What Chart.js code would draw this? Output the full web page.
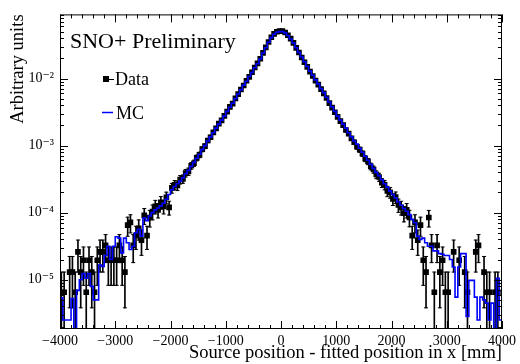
<!DOCTYPE html>
<html>
<head>
<meta charset="utf-8">
<script src="https://cdn.jsdelivr.net/npm/chart.js@4.4.0/dist/chart.umd.min.js"></script>
<style>
  html, body { margin: 0; padding: 0; background: #fff; }
  #wrap { width: 520px; height: 364px; }
</style>
</head>
<body>
<div id="wrap"><canvas id="c"></canvas></div>
<script>
// histogram binning (mm)
var X_MIN = -4000, X_MAX = 4000, BIN_WIDTH = 50;
var Y_MIN = 1.84e-6, Y_MAX = 9.04e-2;
var COUNT_UNIT = 6.5e-6;   // weight of one entry in the data histogram
var FLOOR = 1e-9;          // empty bins are drawn below the axis

var xTickValues = [-4000, -3000, -2000, -1000, 0, 1000, 2000, 3000, 4000];
var xTickLabels = ['\u22124000', '\u22123000', '\u22122000', '\u22121000', '0', '1000', '2000', '3000', '4000'];
var yTickValues = [1e-5, 1e-4, 1e-3, 1e-2];
var yTickLabels = ['10\u207B\u2075', '10\u207B\u2074', '10\u207B\u00B3', '10\u207B\u00B2'];

// data, one value per bin from -4000 to 4000 (0 = empty bin)
var dataValues = [
  6.5e-6, 6.5e-6, 0, 1.3e-5, 1.3e-5, 6.5e-6, 2.6e-5, 1.3e-5, 1.95e-5, 6.5e-6,
  1.95e-5, 1.3e-5, 6.5e-6, 1.95e-5, 2.6e-5, 2.6e-5, 3.25e-5, 1.95e-5, 1.95e-5, 1.95e-5,
  1.95e-5, 3.25e-5, 1.95e-5, 1.3e-5, 6.5e-5, 7.15e-5, 3.25e-5, 4.55e-5, 5.85e-5, 3.9e-5,
  9.1e-5, 4.55e-5, 8.45e-5, 1.04e-4, 1.24e-4, 1.1e-4, 1.43e-4, 1.24e-4, 1.69e-4, 1.2e-4,
  2.34e-4, 2.6e-4, 2.54e-4, 3.12e-4, 3.19e-4, 3.9e-4, 4.1e-4, 5.0e-4, 5.46e-4, 6.57e-4,
  7.28e-4, 8.84e-4, 9.8e-4, 1.19e-3, 1.33e-3, 1.57e-3, 1.81e-3, 2.12e-3, 2.38e-3, 2.78e-3,
  3.21e-3, 3.78e-3, 4.22e-3, 5.05e-3, 5.84e-3, 6.85e-3, 7.88e-3, 9.25e-3, 1.06e-2, 1.24e-2,
  1.46e-2, 1.68e-2, 1.97e-2, 2.41e-2, 2.92e-2, 3.50e-2, 4.12e-2, 4.64e-2, 4.98e-2, 5.10e-2,
  5.08e-2, 4.86e-2, 4.42e-2, 3.93e-2, 3.40e-2, 2.86e-2, 2.44e-2, 2.06e-2, 1.75e-2, 1.49e-2,
  1.27e-2, 1.09e-2, 9.30e-3, 8.10e-3, 6.95e-3, 6.01e-3, 5.12e-3, 4.30e-3, 3.69e-3, 3.14e-3,
  2.68e-3, 2.31e-3, 2.02e-3, 1.71e-3, 1.51e-3, 1.28e-3, 1.12e-3, 9.6e-4, 8.7e-4, 7.6e-4,
  6.4e-4, 5.8e-4, 4.9e-4, 4.4e-4, 3.7e-4, 3.4e-4, 2.8e-4, 2.6e-4, 2.1e-4, 2.0e-4,
  1.6e-4, 1.7e-4, 1.3e-4, 1.2e-4, 9.8e-5, 1.1e-4, 8.5e-5, 4.55e-5, 7.15e-5, 3.9e-5,
  6.5e-5, 1.95e-5, 1.3e-5, 8.45e-5, 3.25e-5, 6.5e-6, 3.25e-5, 1.3e-5, 1.95e-5, 6.5e-6,
  6.5e-6, 0, 2.6e-5, 0, 1.95e-5, 0, 1.3e-5, 6.5e-6, 0, 0,
  2.6e-5, 3.25e-5, 0, 1.3e-5, 6.5e-6, 6.5e-6, 0, 6.5e-6, 6.5e-6, 0
];

// MC, same binning
var mcValues = [
  5.37e-6, 2.51e-6, 2.51e-6, 2.51e-6, 5.25e-6, 0, 6.92e-6, 1.0e-5, 1.23e-5, 1.05e-5,
  1.23e-5, 7.94e-6, 5.01e-6, 5.01e-6, 1.66e-5, 1.58e-5, 2.29e-5, 3.16e-5, 2.0e-5, 3.16e-5,
  4.37e-5, 4.17e-5, 2.51e-5, 4.17e-5, 3.55e-5, 2.82e-5, 3.16e-5, 5.01e-5, 5.62e-5, 4.47e-5,
  8.32e-5, 7.59e-5, 8.91e-5, 1.0e-4, 1.10e-4, 1.17e-4, 1.26e-4, 1.38e-4, 1.58e-4, 1.86e-4,
  2.19e-4, 2.45e-4, 2.69e-4, 2.95e-4, 3.31e-4, 3.80e-4, 4.27e-4, 4.90e-4, 5.62e-4, 6.46e-4,
  7.41e-4, 8.71e-4, 1.0e-3, 1.17e-3, 1.35e-3, 1.55e-3, 1.82e-3, 2.09e-3, 2.40e-3, 2.75e-3,
  3.24e-3, 3.72e-3, 4.27e-3, 5.01e-3, 5.89e-3, 6.76e-3, 7.94e-3, 9.12e-3, 1.07e-2, 1.23e-2,
  1.45e-2, 1.66e-2, 1.95e-2, 2.40e-2, 2.88e-2, 3.47e-2, 4.07e-2, 4.57e-2, 4.90e-2, 5.01e-2,
  5.01e-2, 4.79e-2, 4.37e-2, 3.89e-2, 3.39e-2, 2.88e-2, 2.45e-2, 2.09e-2, 1.78e-2, 1.51e-2,
  1.29e-2, 1.12e-2, 9.55e-3, 8.32e-3, 7.08e-3, 6.17e-3, 5.25e-3, 4.47e-3, 3.80e-3, 3.24e-3,
  2.75e-3, 2.40e-3, 2.09e-3, 1.82e-3, 1.55e-3, 1.35e-3, 1.17e-3, 1.05e-3, 9.12e-4, 7.94e-4,
  6.92e-4, 6.03e-4, 5.25e-4, 4.57e-4, 3.98e-4, 3.55e-4, 3.09e-4, 2.69e-4, 2.40e-4, 2.09e-4,
  1.86e-4, 1.66e-4, 1.45e-4, 1.29e-4, 1.15e-4, 1.05e-4, 9.33e-5, 7.94e-5, 7.08e-5, 4.47e-5,
  3.98e-5, 4.17e-5, 3.55e-5, 3.16e-5, 3.16e-5, 2.69e-5, 2.69e-5, 2.45e-5, 2.40e-5, 2.29e-5,
  2.29e-5, 2.0e-5, 1.55e-5, 5.50e-6, 1.55e-5, 2.45e-5, 2.45e-5, 2.82e-6, 9.77e-6, 9.77e-6,
  5.50e-6, 2.51e-6, 5.50e-6, 5.01e-6, 4.47e-6, 2.51e-6, 4.47e-6, 0, 1.05e-5, 2.51e-6
];

// build the chart datasets from the bins
var points = [], errBars = [], capsHi = [], capsLo = [], mcLine = [];
for (var i = 0; i < dataValues.length; i++) {
  var xc = X_MIN + BIN_WIDTH * (i + 0.5);
  var v = dataValues[i];
  if (v > 0) {
    var err = Math.sqrt(v * COUNT_UNIT);
    var lo = v - err;
    points.push({x: xc, y: v});
    capsHi.push({x: xc, y: v + err});
    if (lo > v * 0.01) {
      capsLo.push({x: xc, y: lo});
    } else {
      lo = FLOOR;
    }
    errBars.push({x: xc, y: [lo, v + err]});
  }
  mcLine.push({x: X_MIN + BIN_WIDTH * i, y: mcValues[i] > 0 ? mcValues[i] : FLOOR});
}
mcLine.push({x: X_MAX, y: mcValues[mcValues.length - 1] > 0 ? mcValues[mcValues.length - 1] : FLOOR});

// frame with ROOT style inner ticks on all four sides, plus the labels
var rootFrame = {
  id: 'rootFrame',
  afterDatasetsDraw: function(chart) {
    var ctx = chart.ctx, a = chart.chartArea;
    var xs = chart.scales.x, ys = chart.scales.y;
    ctx.save();
    ctx.strokeStyle = '#000';
    ctx.lineWidth = 1;
    ctx.strokeRect(a.left + 0.5, a.top + 0.5, a.right - a.left - 1, a.bottom - a.top - 1);
    ctx.beginPath();
    for (var t = X_MIN; t <= X_MAX; t += 200) {
      var px = Math.round(xs.getPixelForValue(t)) + 0.5;
      var len = (t % 1000 === 0) ? 8 : 4;
      ctx.moveTo(px, a.bottom); ctx.lineTo(px, a.bottom - len);
      ctx.moveTo(px, a.top); ctx.lineTo(px, a.top + len);
    }
    for (var d = -6; d <= -1; d++) {
      for (var m = 1; m <= 9; m++) {
        var val = m * Math.pow(10, d);
        if (val < Y_MIN || val > Y_MAX) continue;
        var py = Math.round(ys.getPixelForValue(val)) + 0.5;
        var l = (m === 1) ? 8 : 4;
        ctx.moveTo(a.left, py); ctx.lineTo(a.left + l, py);
        ctx.moveTo(a.right, py); ctx.lineTo(a.right - l, py);
      }
    }
    ctx.stroke();

    ctx.fillStyle = '#000';
    ctx.textBaseline = 'alphabetic';
    ctx.textAlign = 'left';
    ctx.font = '22px "Liberation Serif"';
    ctx.fillText('SNO+ Preliminary', 70, 48);

    // legend
    ctx.font = '18px "Liberation Serif"';
    ctx.beginPath();
    ctx.moveTo(106, 79.5); ctx.lineTo(114, 79.5);
    ctx.stroke();
    ctx.fillRect(103, 76, 6, 6);
    ctx.fillText('Data', 115, 85);
    ctx.strokeStyle = '#0000ff';
    ctx.lineWidth = 1.5;
    ctx.beginPath();
    ctx.moveTo(102, 112.5); ctx.lineTo(113, 112.5);
    ctx.stroke();
    ctx.fillText('MC', 116, 119);
    ctx.restore();
  }
};

Chart.defaults.font.family = '"Liberation Serif", "DejaVu Serif", serif';
Chart.defaults.color = '#000';

new Chart(document.getElementById('c'), {
  type: 'line',
  data: {
    datasets: [
      {
        label: 'MC',
        data: mcLine,
        stepped: true,
        borderColor: '#0000ff',
        borderWidth: 1.6,
        pointRadius: 0,
        fill: false,
        clip: 0,
        order: 0
      },
      {
        label: 'Data',
        data: points,
        showLine: false,
        pointStyle: 'rect',
        pointRadius: 4,
        pointBackgroundColor: '#000',
        pointBorderColor: '#000',
        pointBorderWidth: 0,
        order: 1
      },
      {
        label: 'caps',
        data: capsHi.concat(capsLo),
        showLine: false,
        pointStyle: 'line',
        pointRadius: 2,
        pointBorderColor: '#000',
        pointBorderWidth: 1,
        clip: 0,
        order: 2
      },
      {
        type: 'bar',
        label: 'errors',
        data: errBars,
        backgroundColor: '#000',
        barThickness: 1,
        grouped: false,
        clip: 0,
        order: 3
      }
    ]
  },
  options: {
    responsive: true,
    maintainAspectRatio: false,
    animation: false,
    events: [],
    layout: { padding: { left: 0, right: 16, top: 10, bottom: 0 } },
    plugins: { legend: { display: false }, tooltip: { enabled: false } },
    scales: {
      x: {
        type: 'linear',
        min: X_MIN,
        max: X_MAX,
        offset: false,
        grid: { display: false, offset: false, drawTicks: false },
        border: { display: false },
        afterBuildTicks: function(s) {
          s.ticks = xTickValues.map(function(t) { return {value: t}; });
        },
        afterFit: function(s) { s.height = 35; },
        ticks: {
          autoSkip: false,
          maxRotation: 0,
          padding: 4,
          font: { size: 14 },
          callback: function(value) {
            return xTickLabels[xTickValues.indexOf(value)];
          }
        },
        title: {
          display: true,
          text: 'Source position - fitted position in x [mm]',
          align: 'end',
          font: { size: 18.5 },
          padding: { top: 0, bottom: 0 }
        }
      },
      y: {
        type: 'logarithmic',
        min: Y_MIN,
        max: Y_MAX,
        bounds: 'data',
        grid: { display: false, drawTicks: false },
        border: { display: false },
        afterBuildTicks: function(s) {
          s.ticks = yTickValues.map(function(t) { return {value: t}; });
        },
        afterFit: function(s) { s.width = 60; },
        ticks: {
          autoSkip: false,
          padding: 6,
          font: { size: 14 },
          callback: function(value) {
            var k = yTickValues.indexOf(value);
            return k >= 0 ? yTickLabels[k] : '';
          }
        },
        title: {
          display: true,
          text: 'Arbitrary units',
          align: 'end',
          font: { size: 18.5 },
          padding: { top: 7, bottom: 0 }
        }
      }
    }
  },
  plugins: [rootFrame]
});
</script>
</body>
</html>
